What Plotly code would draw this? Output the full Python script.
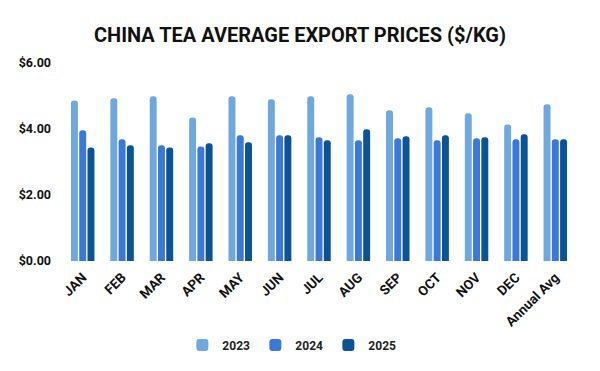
import plotly.graph_objects as go

categories = ["JAN", "FEB", "MAR", "APR", "MAY", "JUN", "JUL", "AUG", "SEP", "OCT", "NOV", "DEC", "Annual Avg"]
prices_2023 = [4.86, 4.93, 4.99, 4.35, 4.99, 4.90, 4.99, 5.05, 4.57, 4.66, 4.48, 4.14, 4.75]
prices_2024 = [3.96, 3.69, 3.51, 3.47, 3.81, 3.81, 3.75, 3.66, 3.72, 3.66, 3.72, 3.69, 3.69]
prices_2025 = [3.44, 3.51, 3.44, 3.57, 3.60, 3.81, 3.66, 3.99, 3.78, 3.81, 3.75, 3.84, 3.69]
series_names = ["2023", "2024", "2025"]
colors = ["#6fa8dc", "#3c78d8", "#0b5394"]
tick_vals = [0, 2, 4, 6]
tick_text = ["$0.00", "$2.00", "$4.00", "$6.00"]

fig = go.Figure()
for name, vals, col in zip(series_names, [prices_2023, prices_2024, prices_2025], colors):
    fig.add_trace(go.Bar(x=categories, y=vals, name="<b>" + name + "</b>",
                         marker=dict(color=col, line=dict(width=0), cornerradius=3)))

fig.update_layout(
    width=600, height=371,
    paper_bgcolor="white", plot_bgcolor="white",
    font=dict(family="Roboto", color="#222222"),
    title=dict(text="<b>CHINA TEA AVERAGE EXPORT PRICES ($/KG)</b>",
               x=0.5, xanchor="center", y=0.907, yanchor="middle",
               font=dict(size=20, color="#111111", family="Roboto")),
    margin=dict(l=63, r=25, t=63, b=110, autoexpand=False),
    barmode="group", bargap=0.37, bargroupgap=0.16,
    showlegend=True,
    legend=dict(orientation="h", x=0.447, xanchor="center", y=-0.424, yanchor="middle",
                font=dict(size=12, family="Roboto", color="#222222"),
                itemwidth=30, entrywidth=28, entrywidthmode="pixels", traceorder="normal"),
    xaxis=dict(tickangle=-45, showgrid=False, showline=False, ticks="", automargin=False,
               ticklabelstandoff=5,
               tickfont=dict(size=13.5, family="Roboto", color="#111111"),
               tickprefix="<b>", ticksuffix="</b>"),
    yaxis=dict(range=[0, 6], tickvals=tick_vals, ticktext=["<b>" + t + "</b>" for t in tick_text],
               showgrid=False, zeroline=False, showline=False, ticks="", automargin=False,
               ticklabelstandoff=11,
               tickfont=dict(size=12.5, family="Roboto", color="#111111")),
)

fig.write_html("out.html", config={"displayModeBar": False},
               post_script="document.body.style.margin='0';document.body.style.overflow='hidden';")
